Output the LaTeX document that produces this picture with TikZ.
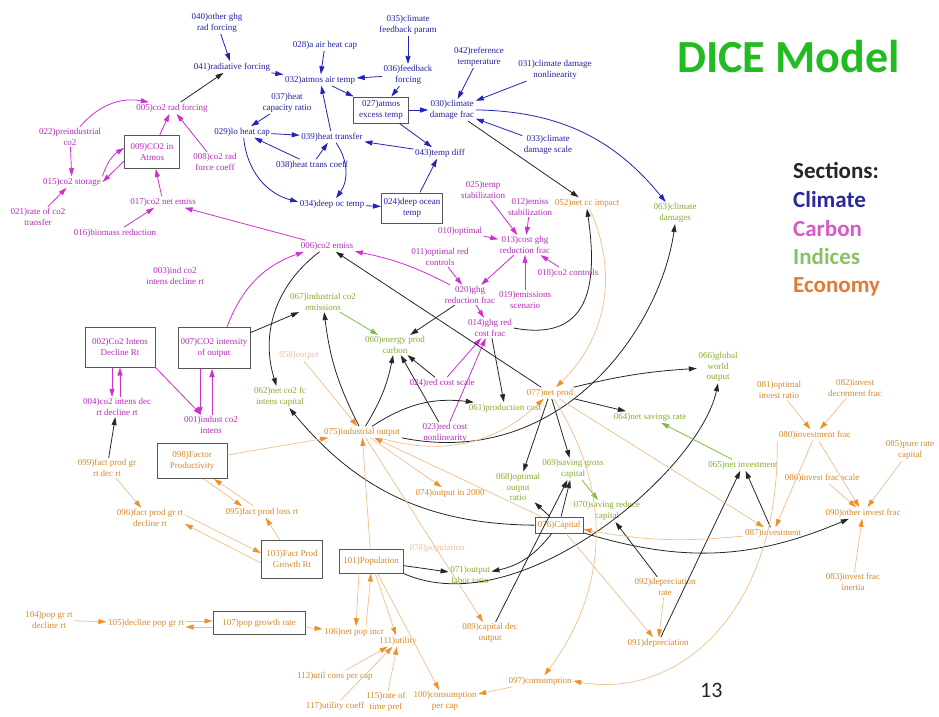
\documentclass[tikz,border=0pt]{standalone}
\usepackage{fontspec}
\setmainfont{Liberation Serif}
\newfontfamily\slidefont{Carlito}
\usepackage{tikz}
\usetikzlibrary{
arrows.meta,
positioning
}
\definecolor{DICEClimText}{HTML}{22229E}
\definecolor{DICEClimLine}{HTML}{2323B8}
\definecolor{DICECarbText}{HTML}{B42DB8}
\definecolor{DICECarbLine}{HTML}{D030D0}
\definecolor{DICEIndText}{HTML}{86AC2E}
\definecolor{DICEIndLine}{HTML}{7CC040}
\definecolor{DICEEcoText}{HTML}{D48A2A}
\definecolor{DICEEcoLine}{HTML}{EFC08A}
\definecolor{DICEEcoHead}{HTML}{EE9226}
\definecolor{DICEFaint}{HTML}{E9C3A6}
\definecolor{DICEBoxGray}{HTML}{555555}
\definecolor{DICETitle}{HTML}{22BB22}
\definecolor{DICELegClim}{HTML}{2A2A9E}
\definecolor{DICELegCarb}{HTML}{D65BC8}
\definecolor{DICELegInd}{HTML}{8CC068}
\definecolor{DICELegEco}{HTML}{E07A35}
\tikzset{
dicetxt/.style={align=center, inner sep=1.5pt, font=\fontsize{9}{10.5}\selectfont},
climtxt/.style={dicetxt, text=DICEClimText},
carbtxt/.style={dicetxt, text=DICECarbText},
indtxt/.style={dicetxt, text=DICEIndText},
econtxt/.style={dicetxt, text=DICEEcoText},
fainttxt/.style={dicetxt, text=DICEFaint},
dicebox/.style={draw=DICEBoxGray, line width=1pt, inner sep=2pt},
climbox/.style={climtxt, dicebox},
carbbox/.style={carbtxt, dicebox},
econbox/.style={econtxt, dicebox},
slidetxt/.style={font=\slidefont\bfseries\fontsize{23}{26}\selectfont, inner sep=0pt, anchor=base west},
climarrow/.style={-{Triangle[length=8pt,width=5pt]}, draw=DICEClimLine, line width=0.8pt},
carbarrow/.style={-{Triangle[length=8pt,width=5pt]}, draw=DICECarbLine, line width=0.8pt},
blkarrow/.style={-{Triangle[length=8pt,width=5pt]}, draw=black!85, line width=0.8pt},
indarrow/.style={-{Triangle[length=8pt,width=5pt]}, draw=DICEIndLine, line width=0.8pt},
econarrow/.style={-{Triangle[length=8pt,width=5pt,color=DICEEcoHead]}, draw=DICEEcoLine, line width=0.7pt}
}
\begin{document}
\begin{tikzpicture}[x=1pt, y=-1pt]
\fill[white] (0,0) rectangle (939,716);
\useasboundingbox (0,0) rectangle (939,716);

\node[climtxt] (otherghg) at (217,23) {040)other ghg\\rad forcing};
\node[climtxt] (radforce) at (232,67) {041)radiative forcing};
\node[climtxt] (airheatcap) at (325,45) {028)a air heat cap};
\node[climtxt] (fbparam) at (408,25) {035)climate\\feedback param};
\node[climtxt] (fbforcing) at (408,75) {036)feedback\\forcing};
\node[climtxt] (airtemp) at (320,80) {032)atmos air temp};
\node[climbox, minimum width=55pt, minimum height=26pt] (excesstemp) at (381,110) {027)atmos\\excess temp};
\node[climtxt] (reftemp) at (479,57) {042)reference\\temperature};
\node[climtxt] (dmgnonlin) at (555,70) {031)climate damage\\nonlinearity};
\node[climtxt] (dmgfrac) at (452,110) {030)climate\\damage frac};
\node[climtxt] (dmgscale) at (548,145) {033)climate\\damage scale};
\node[climtxt] (heatratio) at (287,103) {037)heat\\capacity ratio};
\node[climtxt] (loheatcap) at (242,132) {029)lo heat cap};
\node[climtxt] (heattrans) at (332,137) {039)heat transfer};
\node[climtxt] (transcoeff) at (312,165) {038)heat trans coeff};
\node[climtxt] (tempdiff) at (440,153) {043)temp diff};
\node[climtxt] (deepoc) at (332,204) {034)deep oc temp};
\node[climbox, minimum width=61pt, minimum height=30pt] (deepocean) at (412,208) {024)deep ocean\\temp};

\node[carbtxt] (co2rf) at (172,108) {005)co2 rad forcing};
\node[carbtxt] (preind) at (70,137) {022)preindustrial\\co2};
\node[carbbox, minimum width=55pt, minimum height=33pt] (co2atm) at (152,152) {009)CO2 in\\Atmos};
\node[carbtxt] (rfcoeff) at (215,162) {008)co2 rad\\force coeff};
\node[carbtxt] (co2store) at (72,182) {015)co2 storage};
\node[carbtxt] (co2trans) at (38,217) {021)rate of co2\\transfer};
\node[carbtxt] (netemiss) at (163,202) {017)co2 net emiss};
\node[carbtxt] (biomass) at (115,233) {016)biomass reduction};
\node[carbtxt] (tempstab) at (483,190) {025)temp\\stabilization};
\node[carbtxt] (emissstab) at (530,207) {012)emiss\\stabilization};
\node[carbtxt] (optimal) at (460,231) {010)optimal};
\node[carbtxt] (costghg) at (525,245) {013)cost ghg\\reduction frac};
\node[carbtxt] (co2ctrl) at (568,273) {018)co2 controls};
\node[carbtxt] (scenario) at (525,300) {019)emissions\\scenario};
\node[carbtxt] (ghgfrac) at (470,295) {020)ghg\\reduction frac};
\node[carbtxt] (optredctrl) at (440,257) {011)optimal red\\controls};
\node[carbtxt] (ghgcost) at (490,328) {014)ghg red\\cost frac};
\node[carbtxt] (costscale) at (442,383) {024)red cost scale};
\node[carbtxt] (costnonlin) at (445,433) {023)red cost\\nonlinearity};
\node[carbtxt] (co2emiss) at (327,246) {006)co2 emiss};
\node[carbtxt] (indintensrt) at (175,276) {003)ind co2\\intens decline rt};
\node[carbbox, minimum width=70pt, minimum height=40pt] (intensbox) at (120,347) {002)Co2 Intens\\Decline Rt};
\node[carbbox, minimum width=72pt, minimum height=41pt] (co2int) at (214,348) {007)CO2 intensity\\of output};
\node[carbtxt] (intensdec) at (117,407) {004)co2 intens dec\\rt decline rt};
\node[carbtxt] (indintens) at (211,425) {001)indust co2\\intens};

\node[indtxt] (indco2) at (323,302) {067)industrial co2\\emissions};
\node[indtxt] (energy) at (395,345) {060)energy prod\\carbon};
\node[indtxt] (netcap) at (280,397) {062)net co2 fc\\intens capital};
\node[indtxt] (prodcost) at (505,408) {061)production cost};
\node[indtxt] (climdmg) at (675,213) {063)climate\\damages};
\node[indtxt] (globalout) at (718,367) {066)global\\world\\output};
\node[indtxt] (savrate) at (650,417) {064)net savings rate};
\node[indtxt] (netinv) at (743,465) {065)net investment};
\node[indtxt] (optout) at (518,487) {068)optimal\\output\\ratio};
\node[indtxt] (savgross) at (573,469) {069)saving gross\\capital};
\node[indtxt] (savreduce) at (607,511) {070)saving reduce\\capital};
\node[indtxt] (laborratio) at (470,575) {071)output\\labor ratio};

\node[econtxt] (netcc) at (587,203) {052)net cc impact};
\node[fainttxt] (rawout) at (299,355) {058)output};
\node[econtxt] (indout) at (362,432) {075)industrial output};
\node[econtxt] (netprod) at (550,393) {077)net prod};
\node[econtxt] (optinv) at (779,390) {081)optimal\\invest ratio};
\node[econtxt] (invdec) at (855,388) {082)invest\\decrement frac};
\node[econtxt] (invfrac) at (815,435) {080)investment frac};
\node[econtxt] (purerate) at (910,450) {085)pure rate\\capital};
\node[econtxt] (invscale) at (822,478) {086)invest frac scale};
\node[econtxt] (otherinv) at (863,513) {090)other invest frac};
\node[econtxt] (investment) at (773,533) {087)investment};
\node[econtxt] (inertia) at (853,582) {083)invest frac\\inertia};
\node[econtxt] (out2000) at (450,493) {074)output in 2000};
\node[fainttxt] (rawpop) at (437,548) {078)population};
\node[econtxt] (deprate) at (665,587) {092)depreciation\\rate};
\node[econtxt] (depr) at (658,643) {091)depreciation};
\node[econtxt] (capdep) at (490,633) {089)capital dec\\output};
\node[econtxt] (cons) at (540,681) {097)consumption};
\node[econtxt] (conspc) at (445,701) {100)consumption\\per cap};
\node[econtxt] (fpdec) at (107,468) {099)fact prod gr\\rt dec rt};
\node[econbox, minimum width=70pt, minimum height=35pt] (factprod) at (192,461) {098)Factor\\Productivity};
\node[econtxt] (fpgr) at (150,518) {096)fact prod gr rt\\decline rt};
\node[econtxt] (fploss) at (262,512) {095)fact prod loss rt};
\node[econbox, minimum width=61pt, minimum height=38pt] (fpgrowth) at (292,559) {103)Fact Prod\\Growth Rt};
\node[econtxt] (popdec) at (49,620) {104)pop gr rt\\decline rt};
\node[econtxt] (declinepop) at (146,623) {105)decline pop gr rt};
\node[econbox, minimum width=92pt, minimum height=23pt] (popgrowth) at (259,623) {107)pop growth rate};
\node[econtxt] (netpop) at (354,632) {106)net pop incr};
\node[econbox, minimum width=64pt, minimum height=24pt] (pop) at (371,561) {101)Population};
\node[econtxt] (utility) at (398,641) {111)utility};
\node[econtxt] (utilcons) at (335,676) {112)util cons per cap};
\node[econtxt] (utilcoeff) at (335,706) {117)utility coeff};
\node[econtxt] (timepref) at (386,702) {115)rate of\\time pref};
\node[econbox, minimum width=48pt, minimum height=16pt] (capital) at (559,525) {076)Capital};

\node[slidetxt, text=DICETitle, font=\slidefont\bfseries\fontsize{46}{50}\selectfont] (title) at (677,72) {DICE Model};
\node[slidetxt, text=black!85] (sections) at (793,178) {Sections:};
\node[slidetxt, text=DICELegClim, below=29pt of sections.base west, anchor=base west] (legclim) {Climate};
\node[slidetxt, text=DICELegCarb, below=29pt of legclim.base west, anchor=base west] (legcarb) {Carbon};
\node[slidetxt, text=DICELegInd, below=28pt of legcarb.base west, anchor=base west] (legind) {Indices};
\node[slidetxt, text=DICELegEco, below=28pt of legind.base west, anchor=base west] (legeco) {Economy};
\node[slidetxt, text=black!85, font=\slidefont\fontsize{22}{24}\selectfont] (pagenum) at (700,697) {13};

\draw[climarrow] (otherghg) -- (radforce);
\draw[climarrow] (radforce) -- (airtemp);
\draw[climarrow] (airheatcap) -- (airtemp);
\draw[climarrow] (fbparam) -- (fbforcing);
\draw[climarrow] (fbforcing) -- (airtemp);
\draw[climarrow] (airtemp) -- (excesstemp);
\draw[climarrow] (fbforcing) -- (excesstemp);
\draw[climarrow] (excesstemp) -- (dmgfrac);
\draw[climarrow] (excesstemp) -- (tempdiff);
\draw[climarrow] (deepocean) -- (tempdiff);
\draw[climarrow] (tempdiff) -- (heattrans);
\draw[climarrow] (heattrans) -- (airtemp);
\draw[climarrow] (transcoeff) -- (heattrans);
\draw[climarrow] (transcoeff) -- (loheatcap);
\draw[climarrow] (heatratio) -- (loheatcap);
\draw[climarrow] (loheatcap) -- (heattrans);
\draw[climarrow] (loheatcap) to[bend right=35] (deepoc);
\draw[climarrow] (heattrans) to[bend left=35] (deepoc);
\draw[climarrow] (deepoc) -- (deepocean);
\draw[climarrow] (reftemp) -- (dmgfrac);
\draw[climarrow] (dmgnonlin) -- (dmgfrac);
\draw[climarrow] (dmgscale) -- (dmgfrac);
\draw[climarrow] (dmgfrac) to[bend left=25] (climdmg);

\draw[carbarrow] (preind) to[bend left=30] (co2rf);
\draw[carbarrow] (preind) -- (co2store);
\draw[carbarrow] (co2atm) -- (co2rf);
\draw[carbarrow] (rfcoeff) -- (co2rf);
\draw[carbarrow] (co2store.north east) to[bend left=20] ([yshift=4pt]co2atm.west);
\draw[carbarrow] ([yshift=-9pt]co2atm.west) -- (co2store.east);
\draw[carbarrow] (co2trans) -- (co2store);
\draw[carbarrow] (netemiss) -- (co2atm);
\draw[carbarrow] (biomass) -- (netemiss);
\draw[carbarrow] (co2emiss) -- (netemiss);
\draw[carbarrow] (tempstab) -- (costghg);
\draw[carbarrow] (emissstab) -- (costghg);
\draw[carbarrow] (co2ctrl) -- (costghg);
\draw[carbarrow] (scenario) -- (costghg);
\draw[carbarrow] (optimal) -- (costghg);
\draw[carbarrow] (costghg) -- (ghgfrac);
\draw[carbarrow] (optredctrl) -- (ghgfrac);
\draw[carbarrow] (ghgfrac) to[bend right=8] (co2emiss);
\draw[carbarrow] (ghgfrac) -- (ghgcost);
\draw[carbarrow] (costscale) -- (ghgcost);
\draw[carbarrow] (costnonlin) -- (ghgcost);
\draw[carbarrow] ([xshift=-8pt]intensbox.south) -- ([xshift=-5pt]intensdec.north);
\draw[carbarrow] ([xshift=3pt]intensdec.north) -- ([xshift=0pt]intensbox.south);
\draw[carbarrow] (intensbox.south east) -- (indintens);
\draw[carbarrow] ([xshift=-14pt]co2int.south) -- ([xshift=-11pt]indintens.north);
\draw[carbarrow] ([xshift=1pt]indintens.north) -- ([xshift=-2pt]co2int.south);
\draw[carbarrow] ([xshift=13pt]co2int.north) to[bend left=25] (co2emiss);

\draw[blkarrow] (co2rf) -- (radforce);
\draw[blkarrow] (dmgfrac) -- (netcc);
\draw[blkarrow] (co2emiss) to[bend right=35] (netcap);
\draw[blkarrow] (co2int) -- (indco2);
\draw[blkarrow] (netprod) -- (co2emiss);
\draw[blkarrow] (ghgfrac) -- (energy);
\draw[blkarrow] (costscale) -- (energy);
\draw[blkarrow] (costnonlin) -- (energy);
\draw[blkarrow] (ghgcost) -- (prodcost);
\draw[blkarrow] (ghgcost.east) .. controls +(80,15) and +(10,70) .. (netcc.south);
\draw[blkarrow] (indout) to[bend right=10] (energy);
\draw[blkarrow] (indout) to[bend left=10] (indco2);
\draw[blkarrow] (indout) to[bend left=20] (prodcost);
\draw[blkarrow] (indout.south east) .. controls (560,470) and (660,330) .. (climdmg.south);
\draw[blkarrow] (capital) to[bend left=25] (netcap);
\draw[blkarrow] (netprod) to[bend left=5] (globalout);
\draw[blkarrow] (netprod) -- (savrate);
\draw[blkarrow] (netprod) -- (optout);
\draw[blkarrow] (netprod) -- (savgross);
\draw[blkarrow] (capital) -- (optout);
\draw[blkarrow] (capital) -- (savgross);
\draw[blkarrow] (capdep) -- (savgross);
\draw[blkarrow] (capital) to[bend left=20] (laborratio);
\draw[blkarrow] (pop) -- (laborratio);
\draw[blkarrow] (pop.south east) .. controls (520,625) and (700,470) .. (globalout.south);
\draw[blkarrow] (depr) -- (netinv);
\draw[blkarrow] (deprate) -- (savreduce);
\draw[blkarrow] (investment) -- (netinv);
\draw[blkarrow] (capital) to[bend right=20] (otherinv);
\draw[blkarrow] (fpdec) -- (intensdec);

\draw[indarrow] (indco2) -- (energy);
\draw[indarrow] (netinv) -- (savrate);
\draw[indarrow] (savgross) -- (savreduce);

\draw[econarrow] (rawout) -- (indout);
\draw[econarrow] (factprod) -- (indout);
\draw[econarrow] (pop) -- (indout);
\draw[econarrow] (capital) -- (indout);
\draw[econarrow] (indout) to[bend right=30] (netprod);
\draw[econarrow] (netcc) to[bend left=35] (netprod);
\draw[econarrow] (indout) -- (out2000);
\draw[econarrow] (indout) -- (capdep);
\draw[econarrow] (netprod) -- (investment);
\draw[econarrow] (netprod) to[bend left=35] (cons);
\draw[econarrow] (invfrac) -- (investment);
\draw[econarrow] (invfrac.south west) .. controls (780,610) and (680,700) .. (cons.east);
\draw[econarrow] (optinv) -- (invfrac);
\draw[econarrow] (invdec) -- (invfrac);
\draw[econarrow] (invfrac) -- (otherinv);
\draw[econarrow] (purerate) -- (otherinv);
\draw[econarrow] (invscale) -- (otherinv);
\draw[econarrow] (inertia) -- (otherinv);
\draw[econarrow] (investment) to[bend left=8] (capital);
\draw[econarrow] (capital) -- (depr);
\draw[econarrow] (deprate) -- (depr);
\draw[econarrow] (cons) -- (conspc);
\draw[econarrow] (pop) -- (utility);
\draw[econarrow] (pop) -- (conspc);
\draw[econarrow] (utilcons) -- (utility);
\draw[econarrow] (utilcoeff) -- (utility);
\draw[econarrow] (timepref) -- (utility);
\draw[econarrow] ([xshift=-12pt]pop.south) -- ([xshift=2pt]netpop.north);
\draw[econarrow] ([xshift=12pt]netpop.north) -- ([xshift=0pt]pop.south);
\draw[econarrow] (popgrowth) -- (netpop);
\draw[econarrow] ([yshift=2pt]declinepop.east) -- ([yshift=2pt]popgrowth.west);
\draw[econarrow] ([yshift=-4pt]popgrowth.west) -- ([yshift=-4pt]declinepop.east);
\draw[econarrow] (popdec) -- (declinepop);
\draw[econarrow] (fpdec) -- (fpgr);
\draw[econarrow] ([yshift=3pt]fpgr.east) -- ([yshift=6pt]fpgrowth.west);
\draw[econarrow] ([yshift=-4pt]fpgrowth.west) -- ([yshift=-6pt]fpgr.east);
\draw[econarrow] (fpgrowth) -- (fploss);
\draw[econarrow] ([xshift=12pt]factprod.south) -- ([xshift=-20pt]fploss.north);
\draw[econarrow] ([xshift=-8pt]fploss.north) -- ([xshift=22pt]factprod.south);
\end{tikzpicture}
\end{document}
